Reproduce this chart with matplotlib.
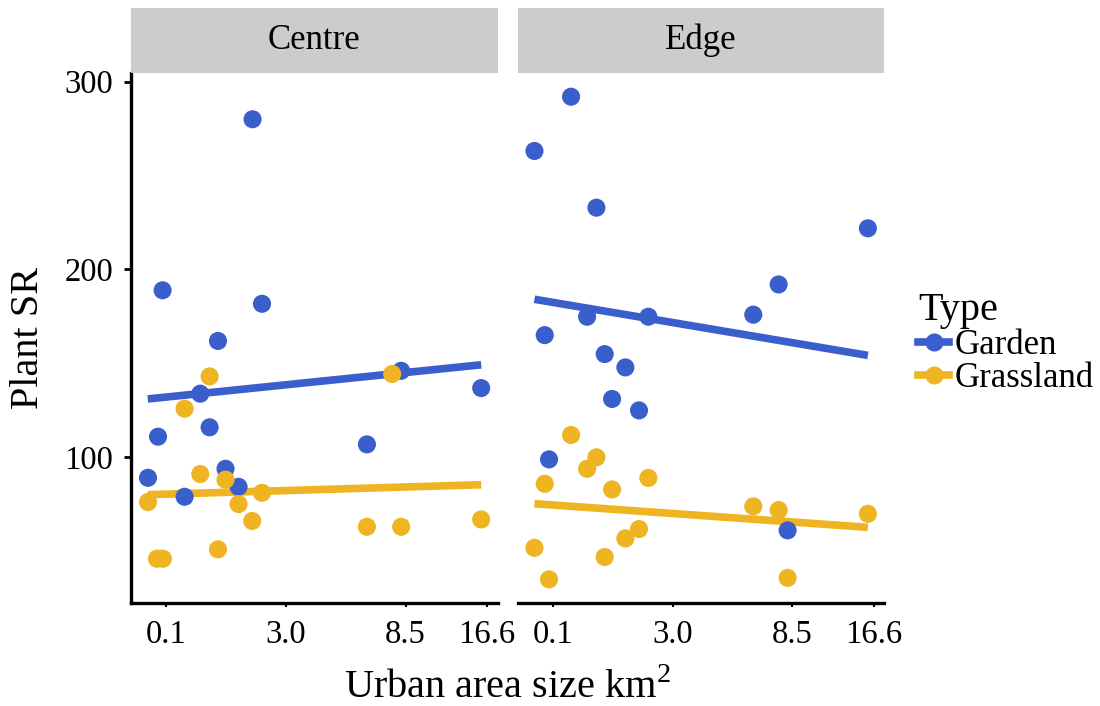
import matplotlib
matplotlib.use("Agg")
import matplotlib.pyplot as plt
from matplotlib.lines import Line2D

plt.rcParams["font.family"] = ["Liberation Serif", "DejaVu Serif"]
plt.rcParams["mathtext.fontset"] = "custom"
plt.rcParams["mathtext.rm"] = "Liberation Serif"

# ---------- data (x = scaled urban area, y = plant species richness) ----------
panels = ["Centre", "Edge"]
tick_pos = [-1.0, 0.0, 1.0, 1.68]
tick_labels = ["0.1", "3.0", "8.5", "16.6"]

centre_garden_x = [-0.279, -1.031, -0.200, -0.568, -0.716, -1.069, -0.638,
                   0.677, 0.963, 1.632, -1.153, -0.505, -0.396, -0.847]
centre_garden_y = [280, 188.9, 181.7, 161.9, 133.8, 110.9, 115.9,
                   106.8, 146, 136.8, 89, 93.8, 84.2, 78.9]
centre_grass_x = [-0.638, -0.847, 0.888, -0.716, -0.505, -1.153, -0.396, -0.200,
                  -0.282, -0.568, -1.078, -1.028, 0.677, 0.963, 1.632]
centre_grass_y = [143, 125.8, 144.3, 91, 88, 76.1, 75, 81,
                  66, 50.9, 45.9, 45.9, 62.9, 62.9, 66.8]

edge_garden_x = [-0.849, -1.155, -0.637, 1.632, 0.886, -0.715, -0.203, 0.674,
                 -1.069, -0.568, -0.395, -0.506, -0.281, -1.033, 0.961]
edge_garden_y = [292, 263.1, 232.9, 221.9, 192, 174.8, 174.8, 175.9,
                 165, 154.9, 147.8, 131, 124.9, 98.8, 61]
edge_grass_x = [-0.849, -0.637, -0.715, -1.069, -0.506, -0.203, 0.674, 0.886,
                1.632, -0.281, -0.395, -0.568, -1.155, -1.033, 0.961]
edge_grass_y = [111.8, 99.9, 93.8, 85.8, 82.8, 88.9, 73.8, 71.8,
                69.8, 61.7, 56.7, 46.8, 51.7, 34.9, 35.7]

# fitted lines: value at min and max x
fit_x = [-1.155, 1.632]
centre_garden_fit = [131.0, 149.2]
centre_grass_fit = [80.0, 85.3]
edge_garden_fit = [184.1, 154.2]
edge_grass_fit = [75.2, 62.6]

BLUE = "#3A5FCD"
GOLD = "#EEB422"

series = {
    "Centre": [(centre_garden_x, centre_garden_y, centre_garden_fit, BLUE),
               (centre_grass_x, centre_grass_y, centre_grass_fit, GOLD)],
    "Edge": [(edge_garden_x, edge_garden_y, edge_garden_fit, BLUE),
             (edge_grass_x, edge_grass_y, edge_grass_fit, GOLD)],
}

fig = plt.figure(figsize=(11, 7.06), dpi=100)
W, H = 1100, 706

def fx(px):
    return px / W

def fy(py):
    return 1 - py / H

panel_left = [131, 517.7]
panel_w = 366.7
top, bottom = 72.7, 603
strip_top = 8

for i, name in enumerate(panels):
    ax = fig.add_axes([fx(panel_left[i]), fy(bottom), panel_w / W, (bottom - top) / H])
    for xs, ys, fit, col in series[name]:
        ax.scatter(xs, ys, s=170, color=col, edgecolor="none", zorder=3)
        ax.plot(fit_x, fit, color=col, lw=5.5, solid_capstyle="butt", zorder=2)
    ax.set_xlim(-1.295, 1.77)
    ax.set_ylim(22.3, 304.8)
    ax.set_xticks(tick_pos)
    ax.set_xticklabels(tick_labels, fontsize=23.5)
    ax.tick_params(axis="x", length=3, width=1.5, pad=9)
    for s in ["top", "right"]:
        ax.spines[s].set_visible(False)
    ax.spines["bottom"].set_linewidth(2.4)
    if i == 0:
        ax.spines["left"].set_linewidth(2.4)
        ax.set_yticks([100, 200, 300])
        ax.set_yticklabels(["100", "200", "300"], fontsize=23.5)
        ax.tick_params(axis="y", length=5, width=2, pad=8)
    else:
        ax.spines["left"].set_visible(False)
        ax.set_yticks([])

    # facet strip
    sax = fig.add_axes([fx(panel_left[i]), fy(top), panel_w / W, (top - strip_top) / H])
    sax.set_facecolor("#CCCCCC")
    for s in sax.spines.values():
        s.set_visible(False)
    sax.set_xticks([])
    sax.set_yticks([])
    sax.text(0.5, 0.5, name, ha="center", va="center", fontsize=25, transform=sax.transAxes)

fig.text(fx(28), fy(338), "Plant SR", rotation=90, ha="center", va="center", fontsize=29)
fig.text(fx(507), fy(688), "Urban area size km$^{2}$", ha="center", va="center", fontsize=29)

handles = [Line2D([], [], color=BLUE, lw=5.5, marker="o", markersize=12),
           Line2D([], [], color=GOLD, lw=5.5, marker="o", markersize=12)]
leg = fig.legend(handles, ["Garden", "Grassland"], title="Type", loc="center left",
                 bbox_to_anchor=(fx(918), fy(344)), frameon=False, fontsize=25,
                 title_fontsize=29, handlelength=0.9, handletextpad=0.15,
                 labelspacing=0.0, borderpad=0, borderaxespad=0)
leg._legend_box.align = "left"

fig.savefig("out.png", dpi=100)
